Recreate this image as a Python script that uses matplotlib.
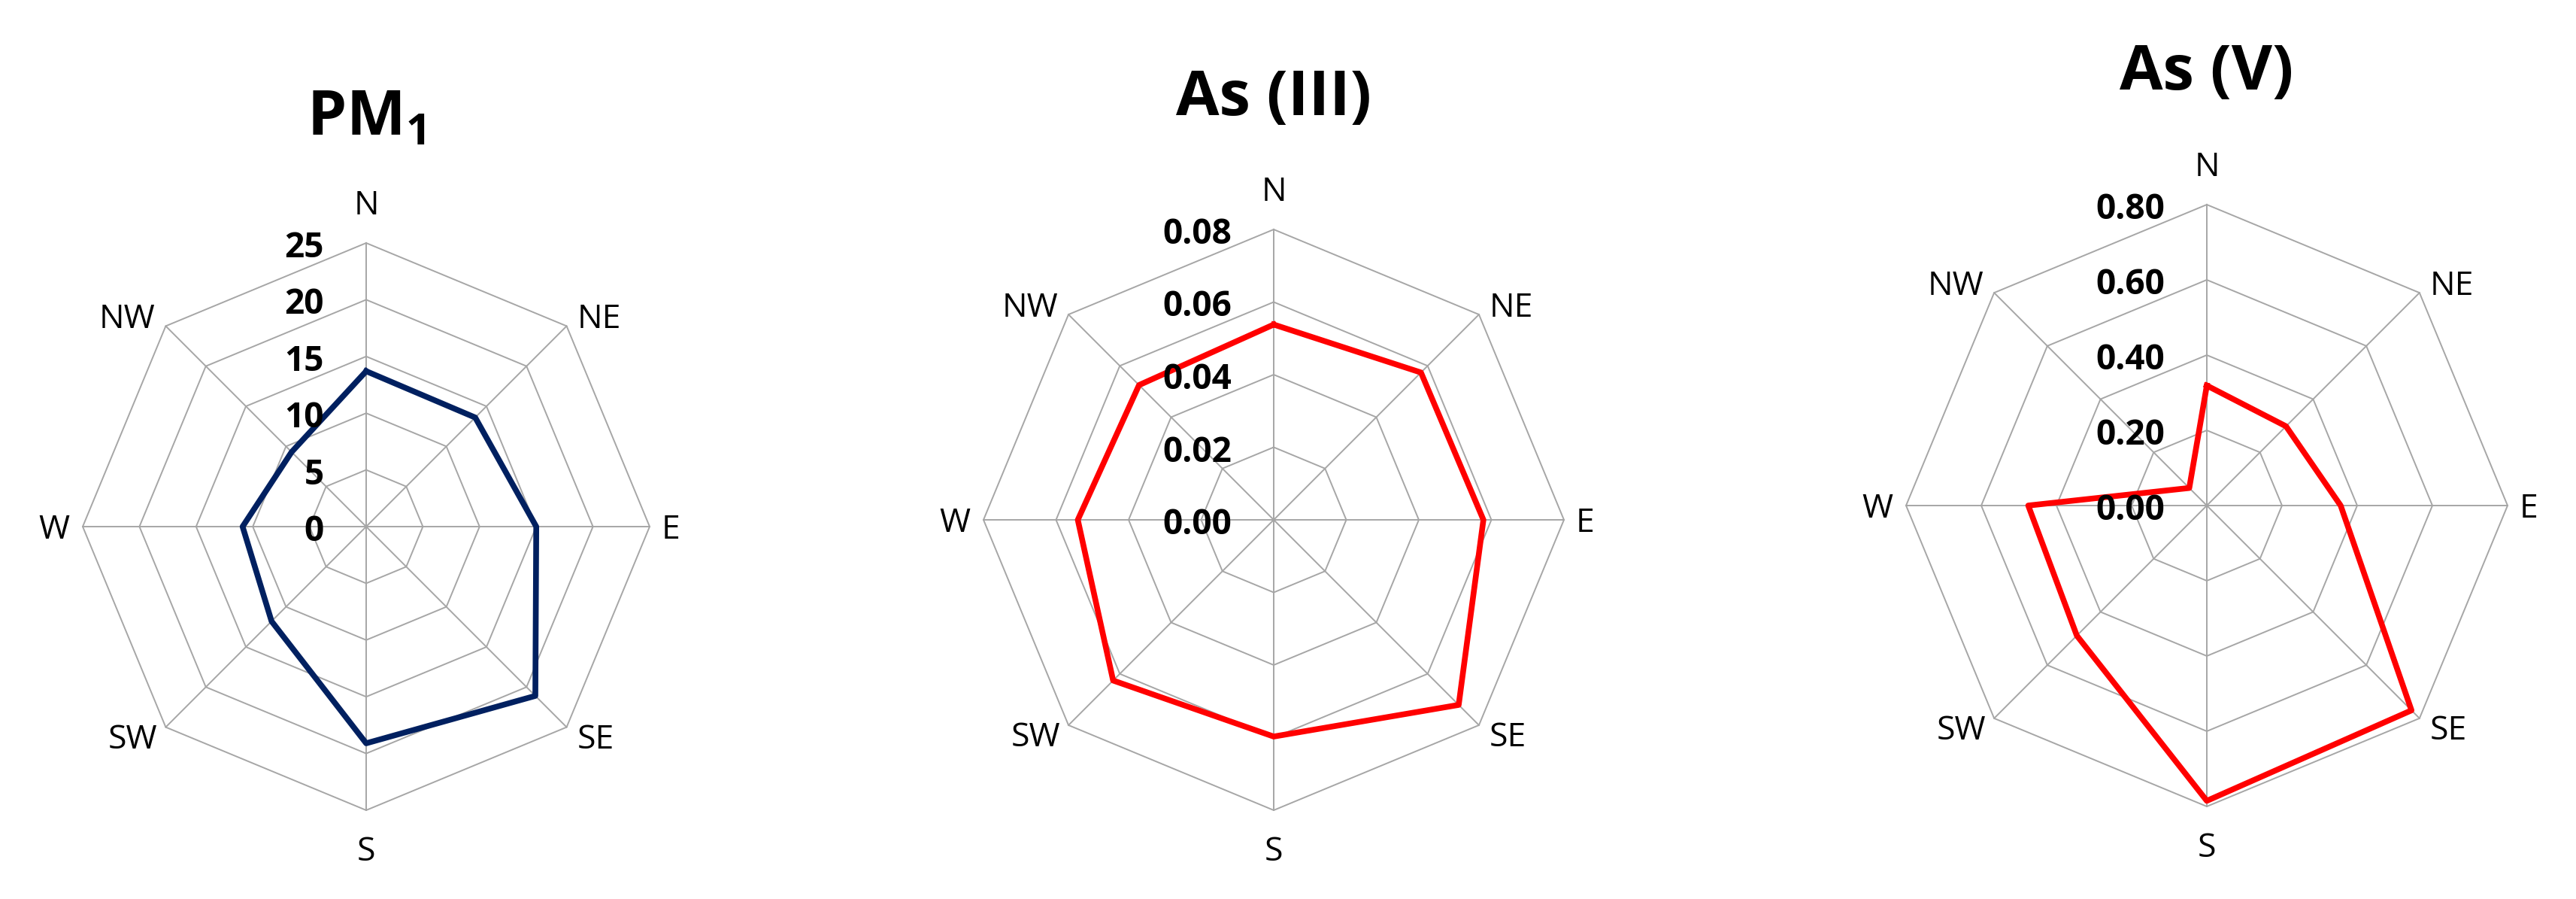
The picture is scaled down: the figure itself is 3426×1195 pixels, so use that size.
import numpy as np
import matplotlib.pyplot as plt

plt.rcParams['font.family'] = ['Open Sans', 'DejaVu Sans']
plt.rcParams['mathtext.fontset'] = 'custom'
plt.rcParams['mathtext.rm'] = 'Open Sans'
plt.rcParams['mathtext.bf'] = 'Open Sans:bold'

# wind directions, clockwise from north
directions = ['N', 'NE', 'E', 'SE', 'S', 'SW', 'W', 'NW']

# values
pm1 = [13.7, 13.6, 15.0, 21.1, 19.1, 11.8, 10.9, 9.3]
as3 = [0.0538, 0.0574, 0.0578, 0.0721, 0.0597, 0.0626, 0.0540, 0.0525]
as5 = [0.319, 0.298, 0.356, 0.770, 0.785, 0.489, 0.475, 0.066]

pm1_ticks = [0, 5, 10, 15, 20, 25]
pm1_ticklabels = ['0', '5', '10', '15', '20', '25']
as3_ticks = [0, 0.02, 0.04, 0.06, 0.08]
as3_ticklabels = ['0.00', '0.02', '0.04', '0.06', '0.08']
as5_ticks = [0, 0.2, 0.4, 0.6, 0.8]
as5_ticklabels = ['0.00', '0.20', '0.40', '0.60', '0.80']

W, H = 3426, 1195
fig = plt.figure(figsize=(W / 100, H / 100), dpi=100)

GRID = '#A6A6A6'
ang = np.arange(len(directions)) * 2 * np.pi / len(directions)

# label offsets (pixels, to the baseline) and alignment for each direction
lab_pos = {
    'N': (0, 38, 'center'),
    'NE': (14, -3, 'left'),
    'E': (16, -16, 'left'),
    'SE': (14, -28, 'left'),
    'S': (0, -67, 'center'),
    'SW': (-11, -28, 'right'),
    'W': (-18, -16, 'right'),
    'NW': (-14, -3, 'right'),
}


def radar(cx, cy, R, title, title_base, values, ticks, ticklabels, color):
    half = 450
    ax = fig.add_axes([(cx - half) / W, (H - cy - half) / H, 2 * half / W, 2 * half / H])
    rmax = ticks[-1]
    L = rmax * half / R
    ax.set_xlim(-L, L)
    ax.set_ylim(-L, L)
    ax.axis('off')

    sx = np.sin(ang)
    cy_ = np.cos(ang)
    # octagon rings
    for t in ticks[1:]:
        ax.plot(np.append(t * sx, t * sx[0]), np.append(t * cy_, t * cy_[0]),
                color=GRID, lw=1.4, zorder=1)
    # spokes
    for a, b in zip(sx, cy_):
        ax.plot([0, rmax * a], [0, rmax * b], color=GRID, lw=1.4, zorder=1)

    # data
    v = np.array(values)
    ax.plot(np.append(v * sx, v[0] * sx[0]), np.append(v * cy_, v[0] * cy_[0]),
            color=color, lw=5.5, solid_joinstyle='round', zorder=3)

    # tick labels
    for t, lab in zip(ticks, ticklabels):
        ax.annotate(lab, xy=(0, t), xytext=(-56, -19), textcoords='offset pixels',
                    ha='right', va='baseline', fontsize=33, fontweight='bold', zorder=4)

    # direction labels
    for d, a, b in zip(directions, sx, cy_):
        ox, oy, ha = lab_pos[d]
        ax.annotate(d, xy=(rmax * a, rmax * b), xytext=(ox, oy), textcoords='offset pixels',
                    ha=ha, va='baseline', fontsize=32)

    fig.text(cx / W, 1 - title_base / H, title, ha='center', va='baseline',
             fontsize=60, fontweight='bold')


radar(487, 700, 377, r'$\mathbf{PM_1}$', 180, pm1, pm1_ticks, pm1_ticklabels, '#002060')
radar(1694, 691, 386, 'As (III)', 153, as3, as3_ticks, as3_ticklabels, '#FF0000')
radar(2935, 672, 400, 'As (V)', 119, as5, as5_ticks, as5_ticklabels, '#FF0000')

fig.savefig('out.png', dpi=100, facecolor='white')
